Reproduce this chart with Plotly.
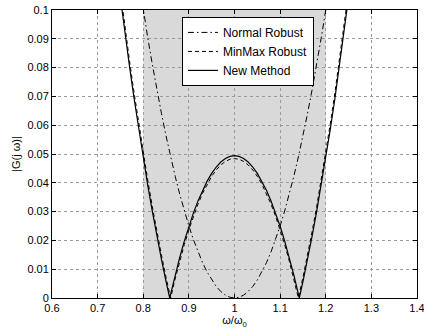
import plotly.graph_objects as go

# ---- data ----
w_new = [0.74, 0.75, 0.76, 0.77, 0.78, 0.79, 0.80, 0.81, 0.82, 0.83, 0.84, 0.85, 0.858,
         0.86, 0.87, 0.88, 0.89, 0.90, 0.91, 0.92, 0.93, 0.94, 0.95, 0.96, 0.97, 0.98, 0.99,
         1.00, 1.01, 1.02, 1.03, 1.04, 1.05, 1.06, 1.07, 1.08, 1.09, 1.10, 1.11, 1.12, 1.13,
         1.14, 1.142, 1.15, 1.16, 1.17, 1.18, 1.19, 1.20, 1.21, 1.22, 1.23, 1.24, 1.25, 1.26]
g_new = [0.11622, 0.10372, 0.09172, 0.08020, 0.06918, 0.05864, 0.04860, 0.03904, 0.02998,
         0.02140, 0.01332, 0.00572, 0.0,
         0.00138, 0.00800, 0.01412, 0.01976, 0.02490, 0.02956, 0.03372, 0.03740, 0.04058,
         0.04328, 0.04548, 0.04720, 0.04842, 0.04916,
         0.04940, 0.04916, 0.04842, 0.04720, 0.04548, 0.04328, 0.04058, 0.03740, 0.03372,
         0.02956, 0.02490, 0.01976, 0.01412, 0.00800,
         0.00138, 0.0, 0.00572, 0.01332, 0.02140, 0.02998, 0.03904, 0.04860, 0.05864,
         0.06918, 0.08020, 0.09172, 0.10372, 0.11622]

w_minmax = [0.74, 0.75, 0.76, 0.77, 0.78, 0.79, 0.80, 0.81, 0.82, 0.83, 0.84, 0.85, 0.86,
            0.87, 0.88, 0.89, 0.90, 0.91, 0.92, 0.93, 0.94, 0.95, 0.96, 0.97, 0.98, 0.99,
            1.00, 1.01, 1.02, 1.03, 1.04, 1.05, 1.06, 1.07, 1.08, 1.09, 1.10, 1.11, 1.12,
            1.13, 1.14, 1.15, 1.16, 1.17, 1.18, 1.19, 1.20, 1.21, 1.22, 1.23, 1.24, 1.25, 1.26]
g_minmax = [0.11856, 0.10596, 0.09386, 0.08225, 0.07114, 0.06052, 0.05039, 0.04076,
            0.03162, 0.02297, 0.01482, 0.00716, 0.0,
            0.00667, 0.01284, 0.01853, 0.02371, 0.02841, 0.03260, 0.03631, 0.03952, 0.04224,
            0.04446, 0.04619, 0.04742, 0.04817,
            0.04841, 0.04817, 0.04742, 0.04619, 0.04446, 0.04224, 0.03952, 0.03631, 0.03260,
            0.02841, 0.02371, 0.01853, 0.01284, 0.00667,
            0.0, 0.00716, 0.01482, 0.02297, 0.03162, 0.04076, 0.05039, 0.06052, 0.07114,
            0.08225, 0.09386, 0.10596, 0.11856]

w_normal = [0.78, 0.79, 0.80, 0.81, 0.82, 0.83, 0.84, 0.85, 0.86, 0.87, 0.88, 0.89, 0.90,
            0.91, 0.92, 0.93, 0.94, 0.95, 0.96, 0.97, 0.98, 0.99, 1.00, 1.01, 1.02, 1.03,
            1.04, 1.05, 1.06, 1.07, 1.08, 1.09, 1.10, 1.11, 1.12, 1.13, 1.14, 1.15, 1.16,
            1.17, 1.18, 1.19, 1.20, 1.21, 1.22]
g_normal = [0.121, 0.11025, 0.1, 0.09025, 0.081, 0.07225, 0.064, 0.05625, 0.049, 0.04225,
            0.036, 0.03025, 0.025, 0.02025, 0.016, 0.01225, 0.009, 0.00625, 0.004, 0.00225,
            0.001, 0.00025, 0.0, 0.00025, 0.001, 0.00225, 0.004, 0.00625, 0.009, 0.01225,
            0.016, 0.02025, 0.025, 0.03025, 0.036, 0.04225, 0.049, 0.05625, 0.064, 0.07225,
            0.081, 0.09025, 0.1, 0.11025, 0.121]

band = [0.8, 1.2]
x_ticks = [0.6, 0.7, 0.8, 0.9, 1.0, 1.1, 1.2, 1.3, 1.4]
x_labels = ["0.6", "0.7", "0.8", "0.9", "1", "1.1", "1.2", "1.3", "1.4"]
y_ticks = [0, 0.01, 0.02, 0.03, 0.04, 0.05, 0.06, 0.07, 0.08, 0.09, 0.1]
y_labels = ["0", "0.01", "0.02", "0.03", "0.04", "0.05", "0.06", "0.07", "0.08", "0.09", "0.1"]

font = "Liberation Sans, Arial, sans-serif"

fig = go.Figure()
fig.add_trace(go.Scatter(x=w_normal, y=g_normal, mode="lines", name="Normal Robust",
                         line=dict(color="black", width=1, dash="6px,3px,1.5px,3px")))
fig.add_trace(go.Scatter(x=w_minmax, y=g_minmax, mode="lines", name="MinMax Robust",
                         line=dict(color="black", width=1, dash="4px,3px")))
fig.add_trace(go.Scatter(x=w_new, y=g_new, mode="lines", name="New Method",
                         line=dict(color="black", width=1.2)))

fig.add_shape(type="rect", xref="x", yref="paper", x0=band[0], x1=band[1], y0=0, y1=1,
              fillcolor="#d9d9d9", line=dict(width=0), layer="below")

axis_common = dict(showline=True, linecolor="black", linewidth=1, mirror="ticks",
                   ticks="inside", ticklen=4, tickcolor="black", automargin=False,
                   ticklabeloverflow="allow",
                   showgrid=True, gridcolor="#9a9a9a", griddash="dot", gridwidth=1,
                   zeroline=False, tickfont=dict(family=font, size=11, color="black"))

fig.update_xaxes(range=[0.6, 1.4], tickvals=x_ticks, ticktext=x_labels,
                 title=dict(text="ω/ω<sub>0</sub>", font=dict(family=font, size=11, color="black"),
                            standoff=2),
                 **axis_common)
fig.update_yaxes(range=[0, 0.1], tickvals=y_ticks, ticktext=y_labels,
                 title=dict(text="|G(j ω)|", font=dict(family=font, size=11, color="black"),
                            standoff=4),
                 **axis_common)

fig.update_layout(
    width=424, height=335,
    margin=dict(l=52, r=7, t=10, b=37),
    paper_bgcolor="white", plot_bgcolor="white",
    font=dict(family=font, size=11, color="black"),
    legend=dict(x=0.356, y=0.976, xanchor="left", yanchor="top",
                bgcolor="white", bordercolor="black", borderwidth=1,
                font=dict(family=font, size=12, color="black"),
                itemwidth=30, tracegroupgap=0),
    showlegend=True,
)

fig.write_html("out.html")
